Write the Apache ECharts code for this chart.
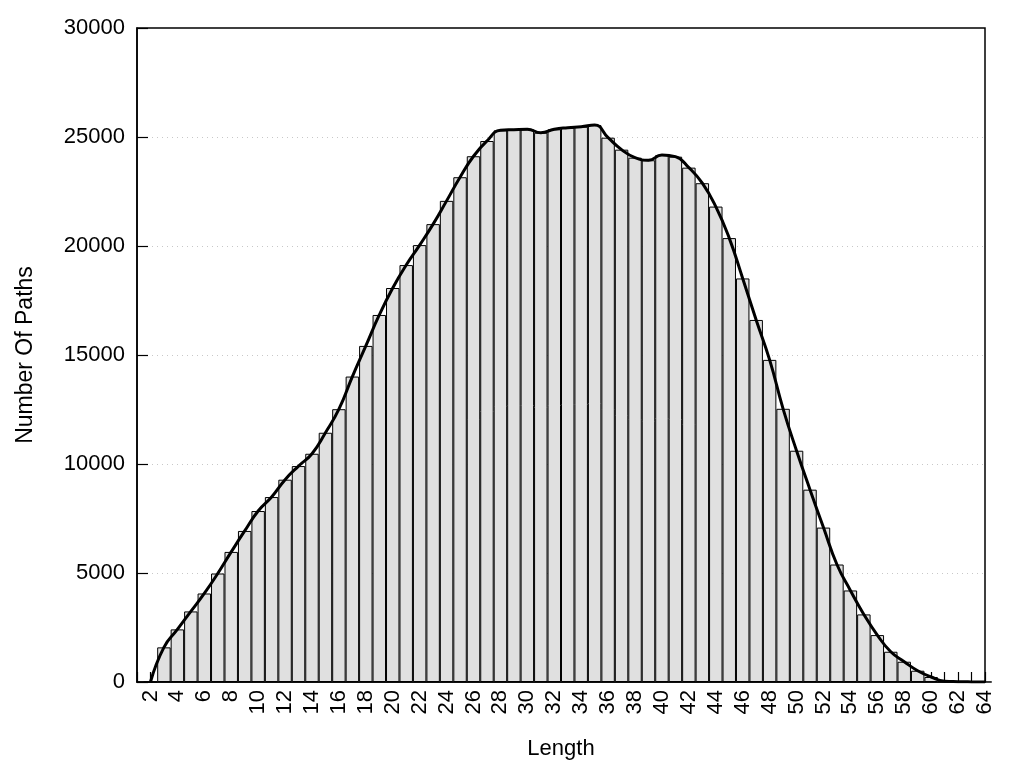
<!DOCTYPE html>
<html>
<head>
<meta charset="utf-8">
<script src="https://cdn.jsdelivr.net/npm/echarts@6/dist/echarts.min.js"></script>
<style>
html,body{margin:0;padding:0;background:#fff;}
#chart{width:1024px;height:768px;}
</style>
</head>
<body>
<div id="chart"></div>
<script>
// Path length categories (1..64)
var lengths = [];
for (var i = 1; i <= 64; i++) lengths.push(String(i));

// Number of paths per length; length 1 has no data
var counts = [null, 0, 1589, 2413, 3237, 4060, 4977, 5967, 6929, 7843,
  8484, 9280, 9906, 10470, 11433, 12514, 14011, 15417, 16836, 18073,
  19125, 20041, 21003, 22070, 23155, 24117, 24817, 25307, 25334, 25353,
  25197, 25353, 25426, 25472, 25549, 24968, 24419, 24052, 23933, 24176,
  24098, 23594, 22880, 21808, 20362, 18512, 16607, 14776, 12532, 10609,
  8823, 7083, 5389, 4199, 3100, 2152, 1387, 929, 517, 230,
  40, 15, 5, 2];

var yTicks = [0, 5000, 10000, 15000, 20000, 25000, 30000];

var FONT = 'Liberation Sans, Arial, sans-serif';
var chart = echarts.init(document.getElementById('chart'), null, {renderer: 'canvas'});
chart.setOption({
  animation: false,
  backgroundColor: '#fff',
  grid: {left: 137, right: 39, top: 28, bottom: 86, show: true,
         borderColor: '#000', borderWidth: 1.5, backgroundColor: 'transparent'},
  xAxis: {
    type: 'category',
    data: lengths,
    boundaryGap: false,
    name: 'Length',
    nameLocation: 'middle',
    nameGap: 56,
    nameTextStyle: {fontFamily: FONT, fontSize: 22, color: '#000'},
    axisLine: {show: true, lineStyle: {color: '#000', width: 1.5}},
    axisTick: {show: true, inside: true, length: 10, interval: 0,
               lineStyle: {color: '#000', width: 1.2}},
    axisLabel: {interval: 0, rotate: 90, margin: 8, fontFamily: FONT, fontSize: 22, color: '#000',
                formatter: function (v) { return (+v) % 2 === 0 ? v : ''; }},
    splitLine: {show: false}
  },
  yAxis: {
    type: 'value',
    min: yTicks[0],
    max: yTicks[yTicks.length - 1],
    interval: yTicks[1] - yTicks[0],
    name: 'Number Of Paths',
    nameLocation: 'middle',
    nameGap: 100,
    nameTextStyle: {fontFamily: FONT, fontSize: 23, color: '#000'},
    axisLine: {show: true, lineStyle: {color: '#000', width: 1.5}},
    axisTick: {show: true, inside: true, length: 11, lineStyle: {color: '#000', width: 1.2}},
    axisLabel: {margin: 12, fontFamily: FONT, fontSize: 22, color: '#000',
                formatter: function (v) { return String(v); }},
    splitLine: {show: true, showMinLine: false, showMaxLine: false,
                lineStyle: {color: '#c8c8c8', type: [1, 4], width: 1}}
  },
  series: [
    {
      type: 'bar',
      data: counts,
      barWidth: '100%',
      barGap: '-100%',
      itemStyle: {color: '#e0e0e0', borderColor: '#000', borderWidth: 1},
      emphasis: {disabled: true},
      z: 2
    },
    {
      type: 'line',
      data: counts,
      smooth: 0.5,
      showSymbol: false,
      symbol: 'none',
      connectNulls: false,
      lineStyle: {color: '#000', width: 3},
      z: 5
    }
  ]
});
</script>
</body>
</html>
